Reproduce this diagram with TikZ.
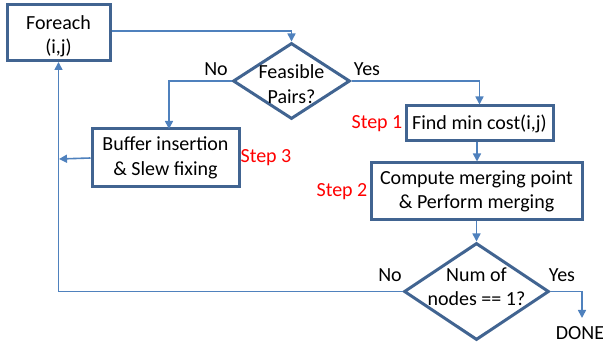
\documentclass[tikz,border=0pt]{standalone}
\usepackage{fontspec}
\setmainfont{Carlito}
\usetikzlibrary{shapes.geometric,arrows.meta}
\definecolor{boxc}{RGB}{65,100,145}
\definecolor{linec}{RGB}{79,129,189}
\tikzset{
  txt/.style={align=center,font=\fontsize{20}{24.5}\selectfont},
  procbox/.style={draw=boxc,line width=3pt,fill=white,inner sep=0pt,txt},
  decision/.style={draw=boxc,line width=3pt,fill=white,diamond,inner sep=0pt},
  conn/.style={draw=linec,line width=1.6pt,-{Triangle[length=8pt,width=8pt]}},
  lbl/.style={font=\fontsize{20}{24}\selectfont},
  steplbl/.style={font=\fontsize{20}{24}\selectfont,text=red}
}
\begin{document}
\begin{tikzpicture}[x=1pt,y=-1pt]
\useasboundingbox (0,0) rectangle (603,347);
\node[procbox,minimum width=103pt,minimum height=56pt,label={[txt,yshift=-4pt]center:Foreach\\(i,j)}] (fe) at (58.5,32.5) {};
\node[decision,minimum width=117pt,minimum height=76pt,label={[txt,yshift=-3pt]center:Feasible\\Pairs?}] (fp) at (291.5,81) {};
\node[procbox,minimum width=147pt,minimum height=35pt] (fm) at (479.5,123.5) {Find min cost(i,j)};
\node[procbox,minimum width=211pt,minimum height=57pt] (cm) at (476.5,191.5) {Compute merging point\\\& Perform merging};
\node[decision,minimum width=145pt,minimum height=97pt,label={[txt,yshift=5pt]center:Num of\\nodes == 1?}] (nn) at (476.5,291.5) {};
\node[procbox,minimum width=147pt,minimum height=58pt] (bi) at (165.5,158) {Buffer insertion\\\& Slew fixing};
\node[lbl] (done) at (580,333) {DONE};
\node[lbl] (no1) at (216,69) {No};
\node[lbl] (yes1) at (367,69) {Yes};
\node[lbl] (no2) at (390,275) {No};
\node[lbl] (yes2) at (562,275) {Yes};
\node[steplbl] (s1) at (377,124) {Step 1};
\node[steplbl] (s2) at (342,192) {Step 2};
\node[steplbl] (s3) at (266,158) {Step 3};
\coordinate (bend) at (59,159);
\coordinate (doneend) at (582,318);
\draw[conn] (fe.east |- 0,31) -| (fp.north);
\draw[conn] (fp.east) -| (fm.north);
\draw[conn] (fp.west) -| (169,129);
\draw[conn] (fm.south -| 477,0) -- (cm.north -| 477,0);
\draw[conn] (cm.south) -- (nn.north);
\draw[conn] (nn.east) -| (doneend);
\draw[conn] (nn.west) -| (fe.south);
\draw[conn] (bi.west) -- (bend);
\end{tikzpicture}
\end{document}
